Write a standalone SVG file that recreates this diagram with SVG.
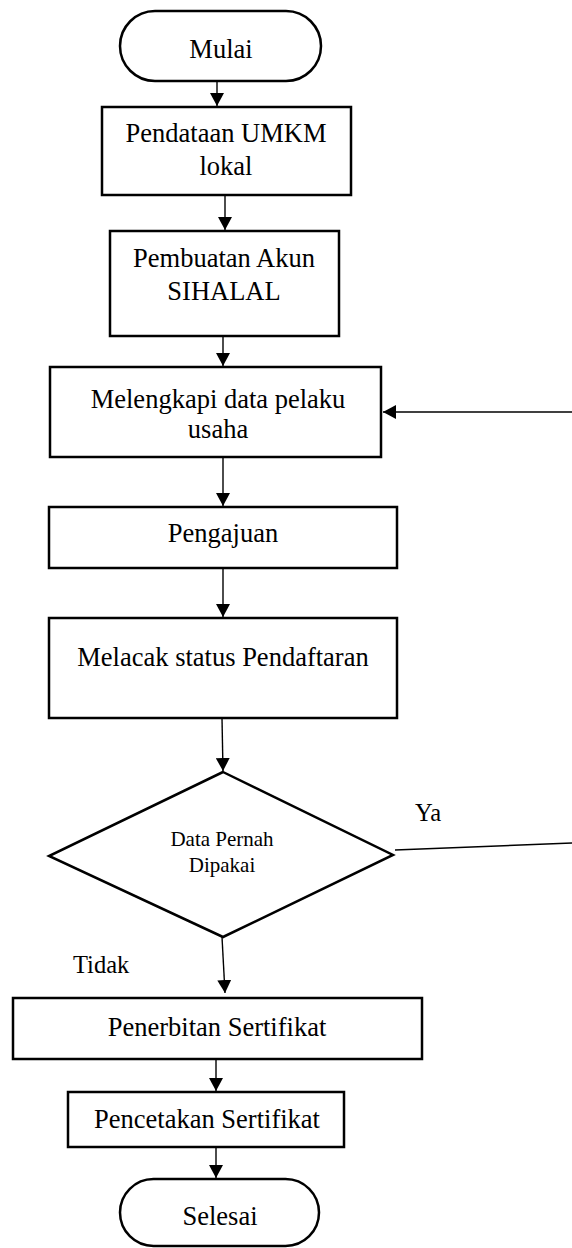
<svg xmlns="http://www.w3.org/2000/svg" width="572" height="1248" viewBox="0 0 572 1248">
<defs>
<style>
.shape{fill:#ffffff;stroke:#000000;stroke-width:2.5}
.t{font-family:"Liberation Serif","Times New Roman",serif;font-size:26.5px;fill:#000000;text-anchor:middle}
.d{font-family:"Liberation Serif","Times New Roman",serif;font-size:21px;fill:#000000;text-anchor:middle}
.lbl{font-family:"Liberation Serif","Times New Roman",serif;font-size:24.5px;fill:#000000}
.c{fill:none;stroke:#000000;stroke-width:1.4}
</style>
<marker id="ah" markerUnits="userSpaceOnUse" markerWidth="14" markerHeight="14" viewBox="0 0 14 14" refX="13" refY="7" orient="auto">
<path d="M0,0 L13,7 L0,14 Z" fill="#000000"/>
</marker>
</defs>
<rect width="572" height="1248" fill="#ffffff"/>

<g id="connectors">
<line class="c" x1="217" y1="81" x2="217" y2="106" marker-end="url(#ah)"/>
<line class="c" x1="225" y1="195" x2="225" y2="230" marker-end="url(#ah)"/>
<line class="c" x1="223" y1="336" x2="223" y2="366" marker-end="url(#ah)"/>
<line class="c" x1="223" y1="457" x2="223" y2="506" marker-end="url(#ah)"/>
<line class="c" x1="223" y1="568" x2="223" y2="617" marker-end="url(#ah)"/>
<line class="c" x1="222" y1="718" x2="223" y2="771" marker-end="url(#ah)"/>
<line class="c" x1="222" y1="937" x2="225" y2="993" marker-end="url(#ah)"/>
<line class="c" x1="216" y1="1059" x2="216" y2="1091" marker-end="url(#ah)"/>
<line class="c" x1="216" y1="1147" x2="216" y2="1178" marker-end="url(#ah)"/>
<line class="c" x1="572" y1="412" x2="383" y2="412" marker-end="url(#ah)"/>
<line class="c" x1="395" y1="850" x2="572" y2="843"/>
<text class="lbl" x="415" y="821">Ya</text>
<text class="lbl" x="73" y="973">Tidak</text>
</g>

<g id="mulai">
<rect class="shape" x="120" y="11" width="201" height="70" rx="35" ry="35"/>
<text class="t" x="221" y="58">Mulai</text>
</g>

<g id="pendataan">
<rect class="shape" x="102" y="107" width="249" height="88"/>
<text class="t" x="226" y="142">Pendataan UMKM</text>
<text class="t" x="226" y="175">lokal</text>
</g>

<g id="pembuatan">
<rect class="shape" x="110" y="231" width="229" height="105"/>
<text class="t" x="224" y="267">Pembuatan Akun</text>
<text class="t" x="224" y="300">SIHALAL</text>
</g>

<g id="melengkapi">
<rect class="shape" x="50" y="367" width="331" height="90"/>
<text class="t" x="218" y="408">Melengkapi data pelaku</text>
<text class="t" x="218" y="438">usaha</text>
</g>

<g id="pengajuan">
<rect class="shape" x="49" y="507" width="348" height="61"/>
<text class="t" x="223" y="542">Pengajuan</text>
</g>

<g id="melacak">
<rect class="shape" x="49" y="618" width="348" height="100"/>
<text class="t" x="223" y="666">Melacak status Pendaftaran</text>
</g>

<g id="keputusan">
<polygon class="shape" points="223,772 393,855 223,937 49,856"/>
<text class="d" x="222" y="846">Data Pernah</text>
<text class="d" x="222" y="872">Dipakai</text>
</g>

<g id="penerbitan">
<rect class="shape" x="13" y="998" width="409" height="61"/>
<text class="t" x="217" y="1036">Penerbitan Sertifikat</text>
</g>

<g id="pencetakan">
<rect class="shape" x="68" y="1092" width="276" height="55"/>
<text class="t" x="207" y="1128">Pencetakan Sertifikat</text>
</g>

<g id="selesai">
<rect class="shape" x="120" y="1179" width="199" height="67" rx="33.5" ry="33.5"/>
<text class="t" x="220" y="1225">Selesai</text>
</g>
</svg>
